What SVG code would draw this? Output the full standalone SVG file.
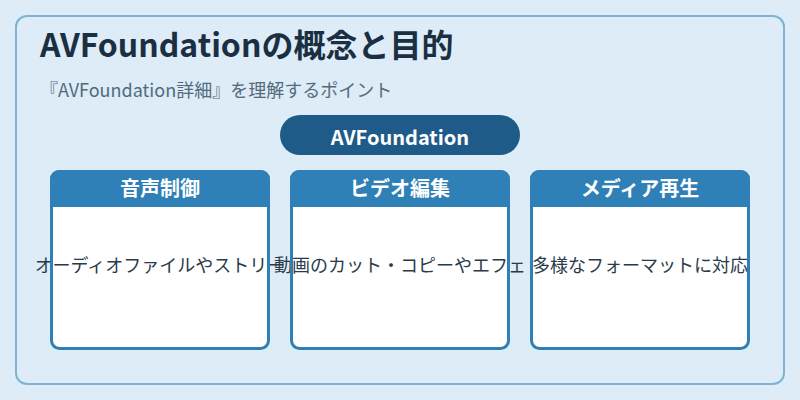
<svg xmlns="http://www.w3.org/2000/svg" width="800" height="400" viewBox="0 0 800 400">
<style>
  text { font-family: "Noto Sans CJK JP", "Noto Sans", sans-serif; }
  .title { font-size: 32px; font-weight: 700; fill: #1b2f42; }
  .sub { font-size: 18px; fill: #526a7c; }
  .pill { fill: #1f5b89; }
  .pilltext { font-size: 20px; font-weight: 700; fill: #ffffff; text-anchor: middle; }
  .body { fill: #ffffff; }
  .head { fill: #2e80b6; }
  .frame { fill: none; stroke: #2e80b6; stroke-width: 3; }
  .headtext { font-size: 20px; font-weight: 700; fill: #ffffff; text-anchor: middle; }
  .bodytext { font-size: 18px; fill: #2a3a48; text-anchor: middle; }
</style>
<rect width="800" height="400" fill="#ddecf7"/>
<rect x="16" y="16" width="768" height="368" rx="11" fill="#ddecf7" stroke="#7db3d4" stroke-width="2"/>
<text class="title" x="40" y="57">AVFoundationの概念と目的</text>
<text class="sub" x="40" y="97">『AVFoundation詳細』を理解するポイント</text>
<g id="root">
  <rect class="pill" x="280" y="115" width="240" height="40" rx="20"/>
  <text class="pilltext" x="400" y="145">AVFoundation</text>
</g>
<g id="connectors"></g>
<g id="card1">
  <rect class="body" x="51.5" y="171.5" width="217" height="177" rx="8"/>
  <path class="head" d="M50,207 V179 a9,9 0 0 1 9,-9 H261 a9,9 0 0 1 9,9 V207 Z"/>
  <text class="headtext" x="160" y="196">音声制御</text>
  <text class="bodytext" x="160" y="272">オーディオファイルやストリー</text>
</g>
<g id="card2">
  <rect class="body" x="291.5" y="171.5" width="217" height="177" rx="8"/>
  <path class="head" d="M290,207 V179 a9,9 0 0 1 9,-9 H501 a9,9 0 0 1 9,9 V207 Z"/>
  <text class="headtext" x="400" y="196">ビデオ編集</text>
  <text class="bodytext" x="400" y="272">動画のカット・コピーやエフェ</text>
</g>
<g id="card3">
  <rect class="body" x="531.5" y="171.5" width="217" height="177" rx="8"/>
  <path class="head" d="M530,207 V179 a9,9 0 0 1 9,-9 H741 a9,9 0 0 1 9,9 V207 Z"/>
  <text class="headtext" x="640" y="196">メディア再生</text>
  <text class="bodytext" x="640" y="272">多様なフォーマットに対応</text>
</g>
<g id="frames">
  <rect class="frame" x="51.5" y="171.5" width="217" height="177" rx="8"/>
  <rect class="frame" x="291.5" y="171.5" width="217" height="177" rx="8"/>
  <rect class="frame" x="531.5" y="171.5" width="217" height="177" rx="8"/>
</g>
</svg>
